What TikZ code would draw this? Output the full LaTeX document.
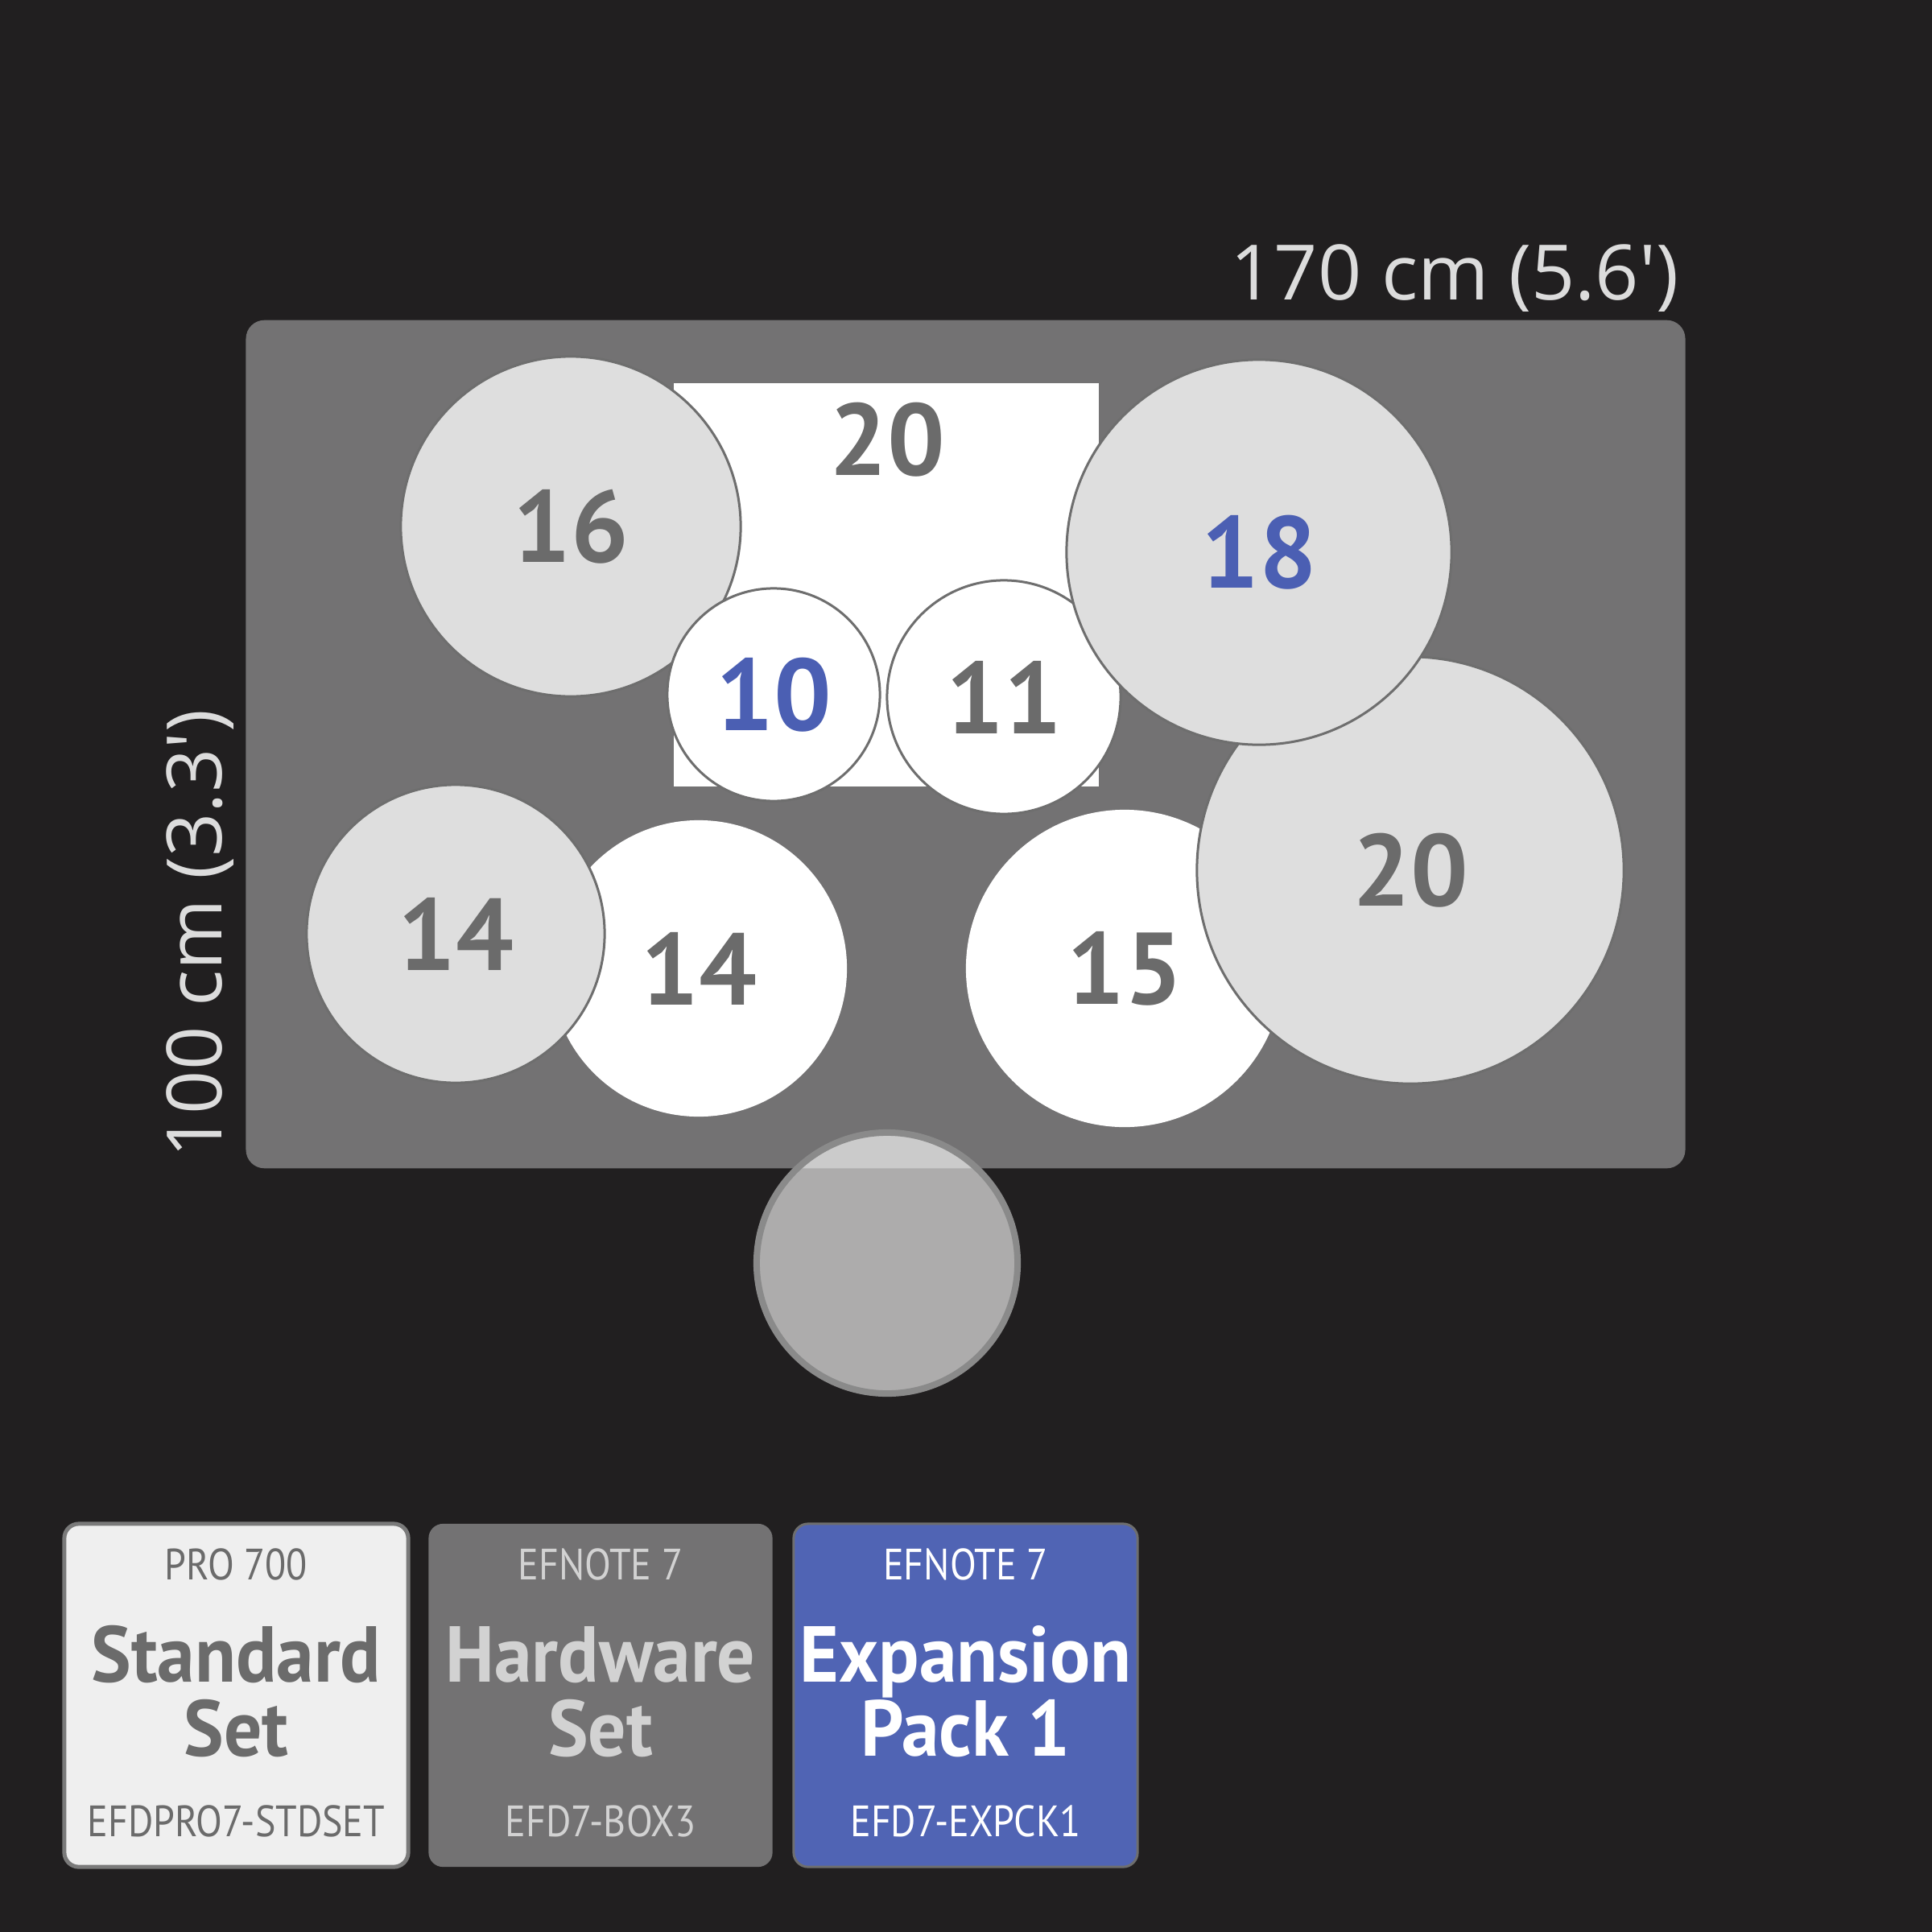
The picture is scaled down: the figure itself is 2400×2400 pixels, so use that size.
\documentclass[tikz,border=0pt]{standalone}
\usepackage{fontspec}
\setmainfont{PT Sans}
\newfontfamily\dimfont{Open Sans}
\newfontfamily\seriesfont{PT Sans}[FakeStretch=0.88]
\newfontfamily\namefont{PT Sans}[FakeStretch=0.95]
\usetikzlibrary{positioning}

\definecolor{bg}{HTML}{211F20}
\definecolor{matgray}{HTML}{737273}
\definecolor{padgray}{HTML}{DEDEDE}
\definecolor{rim}{HTML}{6E6E6E}
\definecolor{numgray}{HTML}{6B6B6B}
\definecolor{efblue}{HTML}{4B5FB3}
\definecolor{boxblue}{HTML}{5064B4}
\definecolor{stdfill}{HTML}{EFEFEF}
\definecolor{boxrim}{HTML}{7A7A7A}
\definecolor{dimtext}{HTML}{DCDCDC}
\definecolor{hwtext}{HTML}{D2D2D2}
\definecolor{seatrim}{HTML}{8A8A8A}

\tikzset{
	pad/.style={circle,inner sep=0pt,font=\fontsize{36}{36}\selectfont\bfseries,text=numgray},
	lightpad/.style={pad,fill=padgray,draw=rim,line width=0.03cm},
	whitepad/.style={pad,fill=white},
	ringpad/.style={pad,fill=white,draw=rim,line width=0.03cm},
	dimlabel/.style={inner sep=0pt,font=\dimfont\fontsize{27}{27}\selectfont,text=dimtext},
	setbox/.style={rounded corners=0.18cm,minimum width=4.27cm,minimum height=4.26cm,inner sep=0pt},
	std box/.style={fill=stdfill,draw=boxrim,line width=0.05cm},
	hw box/.style={fill=matgray},
	exp box/.style={fill=boxblue,draw=rim,line width=0.03cm},
	series/.style={inner sep=0pt,anchor=base,font=\seriesfont\fontsize{15.5}{15.5}\selectfont},
	setname/.style={inner sep=0pt,anchor=base,font=\namefont\fontsize{28}{28}\selectfont\bfseries},
}

\begin{document}
\begin{tikzpicture}[x=0.01cm,y=-0.01cm]
	\fill[bg] (0,0) rectangle (2400,2400);
	\useasboundingbox (0,0) rectangle (2400,2400);

	% mat and its size
	\node (mat) [fill=matgray,rounded corners=0.23cm,minimum width=17.87cm,minimum height=10.53cm,inner sep=0pt] at (1199.5,924.5) {};
	\node (matwidth) [dimlabel,anchor=base east] at (2086,372) {170 cm (5.6\textquotesingle)};
	\node (matdepth) [dimlabel,rotate=90,anchor=base west] at (275,1439) {100 cm (3.3\textquotesingle)};

	% kick
	\node (kick) [fill=white,minimum width=5.28cm,minimum height=5.01cm,inner sep=0pt] at (1101,726.5) {};
	\node (kicknum) [pad,anchor=center] at (1102,546) {20};

	% pads
	\node (tomlow) [whitepad,minimum size=3.68cm] at (868,1203) {14};
	\node (floor) [whitepad,minimum size=3.94cm] at (1397,1203) {15};
	\node (ride) [lightpad,minimum size=5.30cm] at (1752,1081) {20};
	\node (hihat) [lightpad,minimum size=3.70cm] at (566,1160) {14};
	\node (crash) [lightpad,minimum size=4.22cm] at (709,654) {16};
	\node (snare) [ringpad,minimum size=2.64cm,text=efblue] at (961,863) {10};
	\node (tomhigh) [ringpad,minimum size=2.90cm] at (1247,866) {11};
	\node (china) [lightpad,minimum size=4.78cm,text=efblue] at (1564,686) {18};

	% seat
	\node (seat) [circle,fill=white,fill opacity=0.63,draw=seatrim,line width=0.08cm,minimum size=3.24cm] at (1102,1569) {};

	% sets
	\foreach \n/\x/\txt/\first/\lineA/\lineB/\code in {
		std/293.5/numgray/PRO 700/Standard/Set/EFDPRO7-STDSET,
		hw/746/hwtext/EFNOTE 7/Hardware/Set/EFD7-BOX3,
		exp/1199.5/white/EFNOTE 7/Expansion/Pack 1/EFD7-EXPCK1}{
		\node (\n box) [setbox,\n\space box] at (\x,2106) {};
		\node (\n top) [series,text=\txt] at (\x,1962) {\first};
		\node (\n a) [setname,text=\txt] at (\x,2089) {\lineA};
		\node (\n b) [setname,text=\txt] at (\x,2181) {\lineB};
		\node (\n code) [series,text=\txt] at (\x,2281) {\code};
	}
\end{tikzpicture}
\end{document}
